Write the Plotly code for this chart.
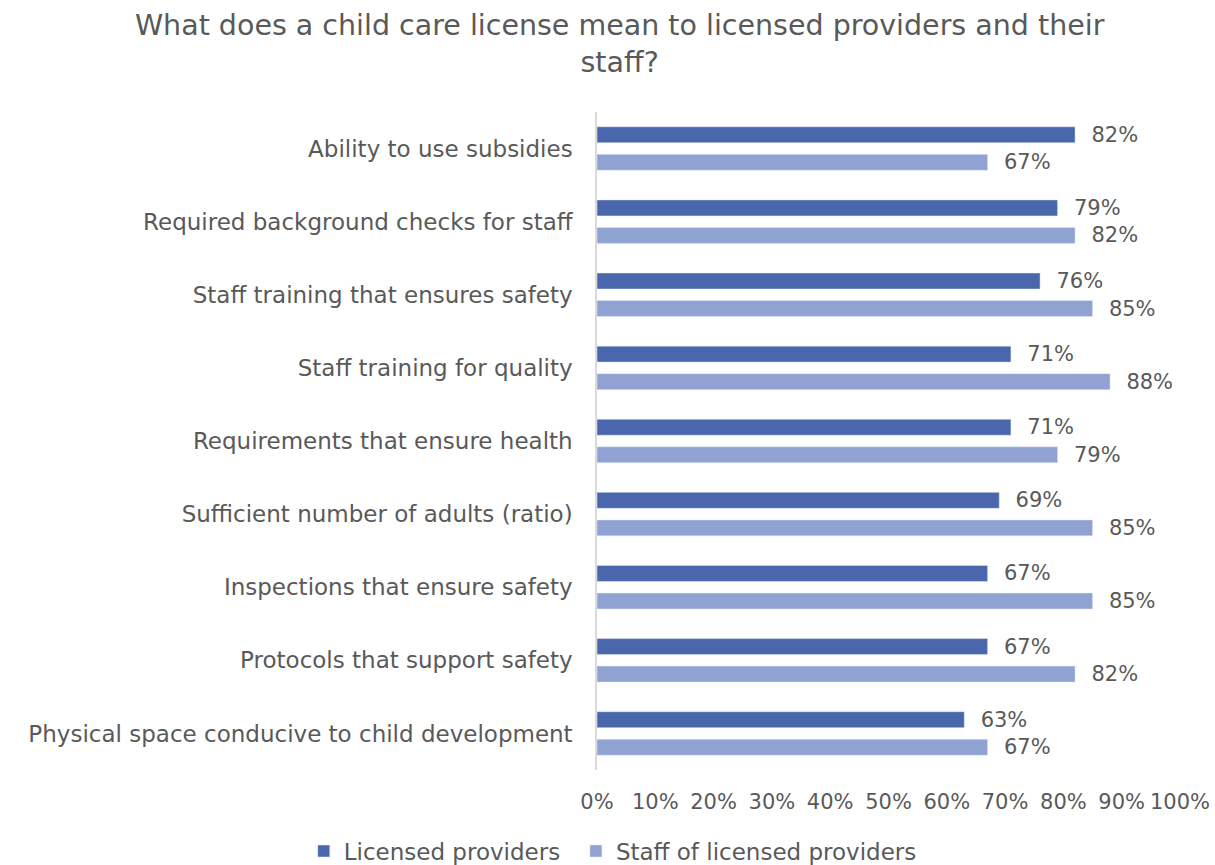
import plotly.graph_objects as go

categories = [
    "Ability to use subsidies",
    "Required background checks for staff",
    "Staff training that ensures safety",
    "Staff training for quality",
    "Requirements that ensure health",
    "Sufficient number of adults (ratio)",
    "Inspections that ensure safety",
    "Protocols that support safety",
    "Physical space conducive to child development",
]
licensed_providers = [82, 79, 76, 71, 71, 69, 67, 67, 63]
staff_of_providers = [67, 82, 85, 88, 79, 85, 85, 82, 67]
x_ticks = [0, 10, 20, 30, 40, 50, 60, 70, 80, 90, 100]
x_tick_labels = [f"{v}%" for v in x_ticks]

FONT = "DejaVu Sans"
GRAY = "#595959"
FS = 21
PAD = "\u00a0\u00a0"

fig = go.Figure()
fig.add_trace(go.Bar(
    y=categories, x=licensed_providers, orientation="h",
    name="Licensed providers", marker_color="#4A66AC",
    text=[f"{PAD}{v}%" for v in licensed_providers], textposition="outside",
    constraintext="none", legend="legend",
    textfont=dict(size=FS, color=GRAY, family=FONT), cliponaxis=False,
))
fig.add_trace(go.Bar(
    y=categories, x=staff_of_providers, orientation="h",
    name="Staff of licensed providers", marker_color="#8FA2D1",
    text=[f"{PAD}{v}%" for v in staff_of_providers], textposition="outside",
    constraintext="none", legend="legend2",
    textfont=dict(size=FS, color=GRAY, family=FONT), cliponaxis=False,
))

legend_common = dict(orientation="h", xref="container", yref="container",
                     xanchor="left", y=0.041, yanchor="top", itemwidth=30,
                     font=dict(size=23, color=GRAY, family=FONT))

fig.update_layout(
    width=1215, height=865,
    margin=dict(l=597, r=35, t=112, b=95, autoexpand=False),
    paper_bgcolor="white", plot_bgcolor="white",
    font=dict(family=FONT, color=GRAY, size=FS),
    title=dict(
        text="What does a child care license mean to licensed providers and their<br>staff?",
        x=0.51, xanchor="center", y=0.96, yanchor="top",
        font=dict(size=28.5, color=GRAY, family=FONT),
    ),
    barmode="group", bargap=0.247, bargroupgap=0.42,
    showlegend=True,
    legend=dict(x=0.25, **legend_common),
    legend2=dict(x=0.474, **legend_common),
    xaxis=dict(range=[0, 100], tickmode="array", tickvals=x_ticks, ticktext=x_tick_labels,
               showgrid=False, zeroline=False, showline=False, ticks="",
               ticklabelstandoff=17, automargin=False,
               tickfont=dict(size=FS, color=GRAY, family=FONT), fixedrange=True),
    yaxis=dict(autorange="reversed", showgrid=False, zeroline=False,
               showline=True, linecolor="#D9D9D9", linewidth=1.5, ticks="",
               ticklabelstandoff=18, automargin=False,
               tickfont=dict(size=23, color=GRAY, family=FONT)),
)

fig.write_html("out.html")
